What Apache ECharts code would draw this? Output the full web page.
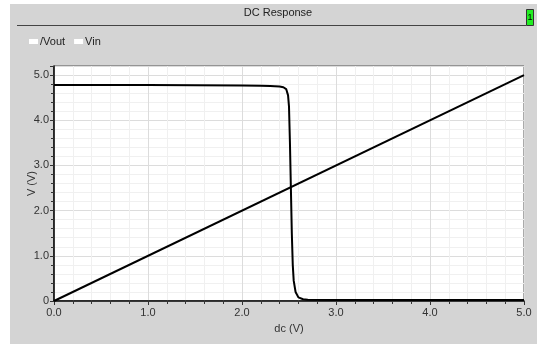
<!DOCTYPE html>
<html>
<head>
<meta charset="utf-8">
<script src="https://cdn.jsdelivr.net/npm/echarts@6/dist/echarts.min.js"></script>
<style>
  html, body { margin: 0; padding: 0; background: #fff; }
  #chart { width: 537px; height: 344px; }
</style>
</head>
<body>
<div id="chart"></div>
<script>
// sweep values (dc, V) and the two traces
const vinX = [0, 5];
const vinY = [0, 5];
const voutX = [0, 0.5, 1.0, 1.5, 2.0, 2.2, 2.3, 2.4, 2.44, 2.47, 2.49, 2.5, 2.51, 2.52, 2.53, 2.54, 2.55, 2.57, 2.6, 2.65, 2.7, 3.0, 4.0, 5.0];
const voutY = [4.78, 4.78, 4.78, 4.775, 4.77, 4.765, 4.76, 4.745, 4.73, 4.69, 4.55, 4.3, 3.5, 2.5, 1.5, 0.8, 0.45, 0.2, 0.08, 0.04, 0.03, 0.02, 0.02, 0.02];
const xTicks = [0, 1, 2, 3, 4, 5];
const yTicks = [0, 1, 2, 3, 4, 5];

const pairs = (xs, ys) => xs.map((x, i) => [x, ys[i]]);
const font = 'Liberation Sans, Arial, sans-serif';

const chart = echarts.init(document.getElementById('chart'), null, { renderer: 'canvas' });
chart.setOption({
  animation: false,
  backgroundColor: '#fff',
  graphic: [
    { type: 'rect', z: -10, shape: { x: 10, y: 4, width: 527, height: 340 }, style: { fill: '#d4d4d4' } },
    { type: 'line', shape: { x1: 17, y1: 25.5, x2: 526, y2: 25.5 }, style: { stroke: '#444', lineWidth: 1 } },
    { type: 'rect', shape: { x: 526.5, y: 9.5, width: 7, height: 16 }, style: { fill: '#22ee22', stroke: '#333', lineWidth: 1 } },
    { type: 'text', style: { x: 530, y: 18, text: '1', font: '9px ' + font, fill: '#000', align: 'center', verticalAlign: 'middle' } },
  ],
  title: {
    text: 'DC Response',
    left: 273,
    textAlign: 'center',
    top: 2,
    textStyle: { fontFamily: font, fontSize: 11, fontWeight: 'normal', color: '#222' },
  },
  legend: {
    left: 24,
    top: 31,
    icon: 'rect',
    itemWidth: 9,
    itemHeight: 5,
    itemGap: 9,
    textStyle: { fontFamily: font, fontSize: 11, color: '#222', padding: [0, 0, 0, -3] },
    data: [
      { name: '/Vout', itemStyle: { color: '#fff' } },
      { name: 'Vin', itemStyle: { color: '#fff' } },
    ],
  },
  grid: {
    left: 54, right: 13, top: 66, bottom: 43,
    show: true, backgroundColor: '#fff', borderColor: '#555', borderWidth: 1,
  },
  xAxis: {
    type: 'value',
    min: xTicks[0],
    max: xTicks[xTicks.length - 1],
    interval: 1,
    name: 'dc (V)',
    nameLocation: 'middle',
    nameGap: 22,
    nameMoveOverlap: false,
    nameTextStyle: { fontFamily: font, fontSize: 11, color: '#333' },
    axisLine: { lineStyle: { color: '#000', width: 1.5 } },
    axisTick: { length: 4, lineStyle: { color: '#333' } },
    minorTick: { show: true, splitNumber: 5, length: 3, lineStyle: { color: '#333' } },
    axisLabel: { fontFamily: font, fontSize: 11, color: '#333', margin: 6, formatter: (v) => v.toFixed(1) },
    splitLine: { show: true, lineStyle: { color: '#dcdcdc' } },
    minorSplitLine: { show: true, lineStyle: { color: '#f0f0f0' } },
  },
  yAxis: {
    type: 'value',
    min: yTicks[0],
    max: 5.2,
    interval: 1,
    name: 'V (V)',
    nameLocation: 'middle',
    nameGap: 17,
    nameMoveOverlap: false,
    nameTextStyle: { fontFamily: font, fontSize: 11, color: '#333' },
    axisLine: { lineStyle: { color: '#000', width: 1.5 } },
    axisTick: { length: 4, lineStyle: { color: '#333' } },
    minorTick: { show: true, splitNumber: 5, length: 3, lineStyle: { color: '#333' } },
    axisLabel: {
      fontFamily: font, fontSize: 11, color: '#333', margin: 5, showMaxLabel: false,
      formatter: (v) => (v === 0 ? '0' : yTicks.includes(v) ? v.toFixed(1) : ''),
    },
    splitLine: { show: true, lineStyle: { color: '#dcdcdc' } },
    minorSplitLine: { show: true, lineStyle: { color: '#f0f0f0' } },
  },
  series: [
    {
      name: '/Vout', type: 'line', showSymbol: false, symbol: 'none',
      data: pairs(voutX, voutY),
      lineStyle: { color: '#000', width: 2 }, itemStyle: { color: '#fff' },
    },
    {
      name: 'Vin', type: 'line', showSymbol: false, symbol: 'none',
      data: pairs(vinX, vinY),
      lineStyle: { color: '#000', width: 2 }, itemStyle: { color: '#fff' },
    },
  ],
});
</script>
</body>
</html>
